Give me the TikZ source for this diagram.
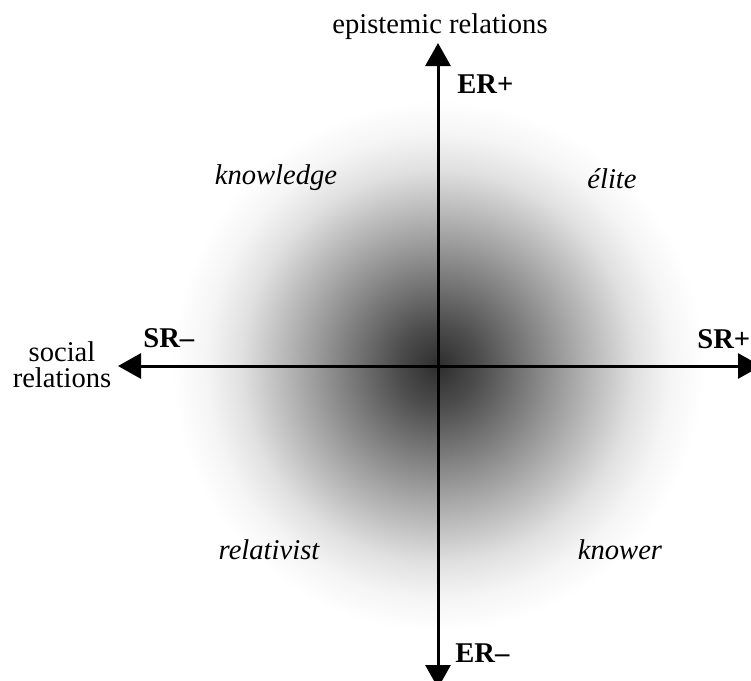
\documentclass[tikz,border=0pt]{standalone}
\usepackage{fontspec}
\setmainfont{Liberation Serif}
\usetikzlibrary{arrows.meta}
\pgfdeclareradialshading{glow}{\pgfpoint{0bp}{0bp}}{%
  color(0bp)=(black!82);
  color(3.8bp)=(black!70);
  color(11.8bp)=(black!38);
  color(18.5bp)=(black!12);
  color(21.8bp)=(black!4);
  color(25bp)=(white);
  color(50bp)=(white)}
\begin{document}
\begin{tikzpicture}[x=0.5pt,y=-0.5pt,
  axis/.style={line width=1.5pt,
    {Triangle[width=12.5pt,length=11.5pt]}-{Triangle[width=12.5pt,length=11.5pt]}},
  lbl/.style={inner sep=0pt,font=\fontsize{14.3}{13}\selectfont},
  pole/.style={lbl,font=\fontsize{14.3}{13}\selectfont\bfseries,anchor=base west},
  quad/.style={lbl,font=\fontsize{14.3}{13}\selectfont\itshape,anchor=base}]
\useasboundingbox (0,0) rectangle (751,681);
\fill[white] (0,0) rectangle (751,681);
\coordinate (O) at (438,366);
\shade[shading=glow] (O) circle (133pt);
\coordinate (T) at (438,43);
\coordinate (B) at (438,688);
\coordinate (L) at (118,366);
\coordinate (R) at (761,366);
\draw[axis] (B) -- (T);
\draw[axis] (L) -- (R);
\node[lbl,anchor=base] (er) at (440,33) {epistemic relations};
\node[lbl,align=center] (sr) at (62,365) {social\\relations};
\node[pole] (erp) at (457,93) {ER+};
\node[pole] (erm) at (455,662) {ER–};
\node[pole] (srm) at (143,347) {SR–};
\node[pole] (srp) at (697,348) {SR+};
\node[quad] (kn) at (276,184) {knowledge};
\node[quad] (el) at (612,188) {élite};
\node[quad] (re) at (269,559) {relativist};
\node[quad] (ko) at (620,559) {knower};
\end{tikzpicture}
\end{document}
